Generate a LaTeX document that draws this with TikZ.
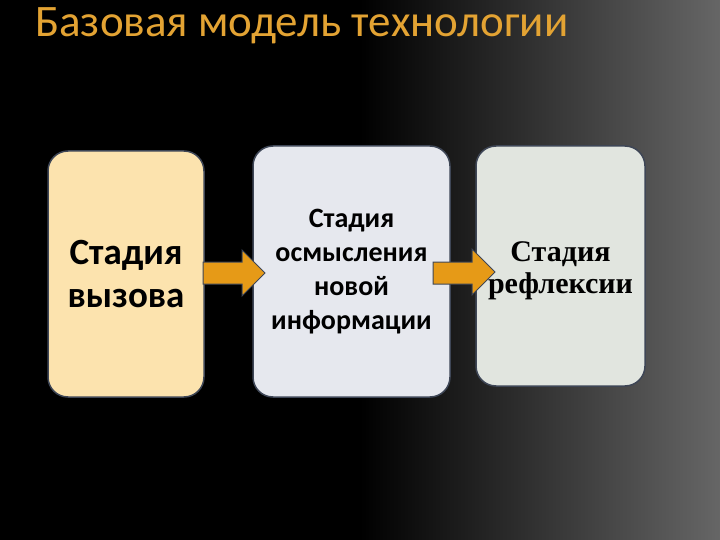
\documentclass[tikz,border=0pt]{standalone}
\usepackage{fontspec}
\setmainfont{Carlito}
\newfontfamily\reflexfont{Liberation Serif}
\usetikzlibrary{positioning}
\definecolor{titleorange}{HTML}{E3A333}
\definecolor{stagecream}{HTML}{FCE3AE}
\definecolor{stagelilac}{HTML}{E6E8EE}
\definecolor{stagesage}{HTML}{E1E5DF}
\definecolor{stageedge}{HTML}{3E4656}
\definecolor{arroworange}{HTML}{E69A17}
\tikzset{
  stagebox/.style={draw=stageedge, line width=1.5pt, rounded corners=20pt,
    align=center, inner sep=0pt, text=black},
  stagearrow/.style={fill=arroworange, draw=stageedge, line width=1pt, line join=miter}
}
\begin{document}
\begin{tikzpicture}[x=1pt,y=-1pt]
    % background
    \fill[black] (0,0) rectangle (720,540);
    \shade[left color=black, right color=black!60!white] (360,0) rectangle (720,540);
    \useasboundingbox (0,0) rectangle (720,540);
    \node[anchor=base west, inner sep=0pt, text=titleorange, font=\fontsize{45}{54}\selectfont] (title) at (35,37) {Базовая модель технологии};
    % stages
    \node[stagebox, fill=stagecream, minimum width=156pt, minimum height=246pt,
      font=\bfseries\fontsize{37}{43}\selectfont] (vyzov) at (126,274) {Стадия\\вызова};
    \node[stagebox, fill=stagelilac, minimum width=197pt, minimum height=251pt,
      font=\bfseries\fontsize{28}{34}\selectfont] (osmysl) at (351.5,271.5) {Стадия\\осмысления\\новой\\информации};
    \node[stagebox, fill=stagesage, minimum width=169pt, minimum height=240pt] (reflex) at (560.5,266) {};
    \node[align=center, font=\reflexfont\bfseries\fontsize{30}{32}\selectfont] (reflextext) at (560.5,271) {Стадия\\рефлексии};
    % arrows
    \draw[stagearrow] (203,262) -- (242,262) -- (242,250) -- (265,273) -- (242,296) -- (242,284) -- (203,284) -- cycle;
    \draw[stagearrow] (433,262) -- (472,262) -- (472,249) -- (495,272) -- (472,295) -- (472,284) -- (433,284) -- cycle;
\end{tikzpicture}
\end{document}
